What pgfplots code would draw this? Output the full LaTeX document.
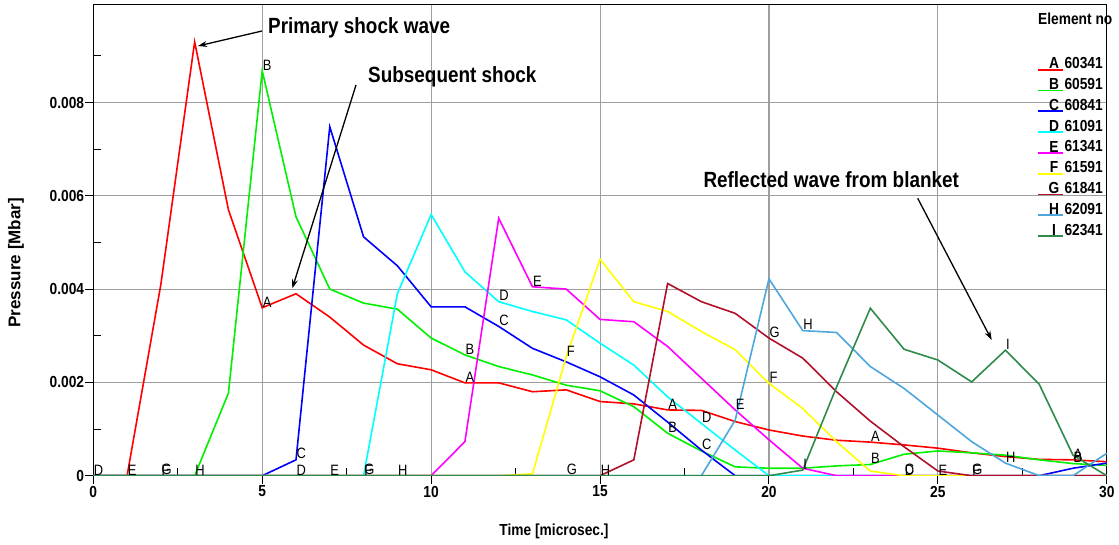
\documentclass[border=0pt]{standalone}
\usepackage{fontspec}
\setmainfont{Liberation Sans}
\newfontfamily\nfont[FakeStretch=0.86]{Liberation Sans}
\usepackage{pgfplots}
\pgfplotsset{compat=1.18}
\usetikzlibrary{arrows.meta}
\definecolor{cA}{HTML}{FF0000}
\definecolor{cB}{HTML}{00F000}
\definecolor{cC}{HTML}{0000FF}
\definecolor{cD}{HTML}{00FFFF}
\definecolor{cE}{HTML}{FF00FF}
\definecolor{cF}{HTML}{FFFF00}
\definecolor{cG}{HTML}{B0102A}
\definecolor{cH}{HTML}{4DA6DC}
\definecolor{cI}{HTML}{2E8B4A}
\tikzset{
  lbl/.style={anchor=south west, inner sep=0.5pt, font=\nfont\fontsize{15}{15}\selectfont},
  ann/.style={anchor=west, inner sep=0pt, font=\nfont\bfseries\fontsize{22}{22}\selectfont},
  arr/.style={line width=1.3pt, -{Stealth[length=9pt,width=6pt]}},
  leg/.style={inner sep=0pt, font=\nfont\bfseries\fontsize{16}{16}\selectfont},
}
\begin{document}
\begin{tikzpicture}
\path[use as bounding box] (-93.3pt,-68.3pt) rectangle (1025.7pt,475.7pt);
\begin{axis}[
  scale only axis, width=1013.5pt, height=470.7pt,
  xmin=0, xmax=30, ymin=0, ymax=0.01009,
  axis line style={black, line width=1pt},
  xtick={0,5,...,30}, ytick={0,0.002,0.004,0.006,0.008},
  minor xtick={2.5,7.5,...,27.5}, minor ytick={0.001,0.003,0.005,0.007,0.009},
  tick pos=left,
  grid=major, major grid style={gray!75, line width=1.1pt},
  tick align=outside, major tick length=8pt, minor tick length=8pt,
  tick style={black, line width=1pt},
  minor x tick style={yshift=8pt},
  minor y tick style={xshift=8pt},
  scaled y ticks=false,
  /pgf/number format/assume math mode=true,
  ticklabel style={font=\nfont\bfseries\fontsize{16}{16}\selectfont},
  yticklabel style={/pgf/number format/fixed, /pgf/number format/precision=3, inner sep=1pt},
  xticklabel style={inner sep=2pt},
]
\addplot[cA, line width=1.6pt] coordinates {(0,0)(1,0)(2,0.0041)(3,0.0093)(4,0.0057)(5,0.0036)(6,0.0039)(7,0.0034)(8,0.0028)(9,0.0024)(10,0.00227)(11,0.00199)(12,0.00199)(13,0.0018)(14,0.00184)(15,0.00159)(16,0.00154)(17,0.00141)(18,0.0014)(19,0.00116)(20,0.00098)(21,0.00085)(22,0.00076)(23,0.00072)(24,0.00066)(25,0.00059)(26,0.00049)(27,0.00041)(28,0.00035)(29,0.00034)(30,0.0003)};
\addplot[cB, line width=1.6pt] coordinates {(0,0)(1,0)(2,0)(3,0)(4,0.00177)(5,0.00868)(6,0.00555)(7,0.004)(8,0.0037)(9,0.00357)(10,0.00295)(11,0.00259)(12,0.00234)(13,0.00216)(14,0.00194)(15,0.00182)(16,0.00148)(17,0.00091)(18,0.00053)(19,0.00019)(20,0.00016)(21,0.00016)(22,0.00021)(23,0.00024)(24,0.00046)(25,0.00053)(26,0.00049)(27,0.00044)(28,0.00034)(29,0.00026)(30,0.00022)};
\addplot[cC, line width=1.6pt] coordinates {(0,0)(1,0)(2,0)(3,0)(4,0)(5,0)(6,0.00034)(7,0.00748)(8,0.00512)(9,0.0045)(10,0.00362)(11,0.00362)(12,0.0032)(13,0.00273)(14,0.00244)(15,0.00212)(16,0.00173)(17,0.00115)(18,0.00055)(19,0)(20,0)(21,0)(22,0)(23,0)(24,0)(25,0)(26,0)(27,0)(28,0)(29,0.00016)(30,0.00027)};
\addplot[cD, line width=1.6pt] coordinates {(0,0)(1,0)(2,0)(3,0)(4,0)(5,0)(6,0)(7,0)(8,0)(9,0.0039)(10,0.0056)(11,0.00437)(12,0.00373)(13,0.00352)(14,0.00334)(15,0.00284)(16,0.00237)(17,0.00169)(18,0.00112)(19,0.00055)(20,0)(21,0)(22,0)(23,0)(24,0)(25,0)(26,0)(27,0)(28,0)(29,0)(30,0)};
\addplot[cE, line width=1.6pt] coordinates {(0,0)(1,0)(2,0)(3,0)(4,0)(5,0)(6,0)(7,0)(8,0)(9,0)(10,0)(11,0.00073)(12,0.00552)(13,0.00405)(14,0.004)(15,0.00335)(16,0.0033)(17,0.00277)(18,0.00209)(19,0.00141)(20,0.00077)(21,0.00016)(22,0)(23,0)(24,0)(25,0)(26,0)(27,0)(28,0)(29,0)(30,0)};
\addplot[cF, line width=1.6pt] coordinates {(0,0)(1,0)(2,0)(3,0)(4,0)(5,0)(6,0)(7,0)(8,0)(9,0)(10,0)(11,0)(12,0)(13,0.00004)(14,0.00255)(15,0.00464)(16,0.00373)(17,0.00352)(18,0.00309)(19,0.0027)(20,0.00198)(21,0.00144)(22,0.00073)(23,0.0001)(24,0)(25,0)(26,0)(27,0)(28,0)(29,0)(30,0)};
\addplot[cG, line width=1.6pt] coordinates {(0,0)(1,0)(2,0)(3,0)(4,0)(5,0)(6,0)(7,0)(8,0)(9,0)(10,0)(11,0)(12,0)(13,0)(14,0)(15,0)(16,0.00034)(17,0.00412)(18,0.00373)(19,0.00348)(20,0.00295)(21,0.00252)(22,0.0018)(23,0.00117)(24,0.00062)(25,0.0001)(26,0)(27,0)(28,0)(29,0)(30,0)};
\addplot[cH, line width=1.6pt] coordinates {(0,0)(1,0)(2,0)(3,0)(4,0)(5,0)(6,0)(7,0)(8,0)(9,0)(10,0)(11,0)(12,0)(13,0)(14,0)(15,0)(16,0)(17,0)(18,0)(19,0.00119)(20,0.00422)(21,0.00311)(22,0.00307)(23,0.00234)(24,0.00187)(25,0.0013)(26,0.00073)(27,0.00027)(28,0)(29,0)(30,0.00048)};
\addplot[cI, line width=1.6pt] coordinates {(0,0)(1,0)(2,0)(3,0)(4,0)(5,0)(6,0)(7,0)(8,0)(9,0)(10,0)(11,0)(12,0)(13,0)(14,0)(15,0)(16,0)(17,0)(18,0)(19,0)(20,0)(21,0.00012)(22,0.0019)(23,0.00359)(24,0.00271)(25,0.00248)(26,0.00201)(27,0.00269)(28,0.00196)(29,0.00044)(30,0)};
% curve letters
\node[lbl] at (axis cs:5,0.0036) {A};
\node[lbl] at (axis cs:11,0.00199) {A};
\node[lbl] at (axis cs:17,0.00141) {A};
\node[lbl] at (axis cs:23,0.00072) {A};
\node[lbl] at (axis cs:29,0.00034) {A};
\node[lbl] at (axis cs:5,0.00868) {B};
\node[lbl] at (axis cs:11,0.00259) {B};
\node[lbl] at (axis cs:17,0.00091) {B};
\node[lbl] at (axis cs:23,0.00024) {B};
\node[lbl] at (axis cs:29,0.00026) {B};
\node[lbl] at (axis cs:6,0.00034) {C};
\node[lbl] at (axis cs:12,0.0032) {C};
\node[lbl] at (axis cs:18,0.00055) {C};
\node[lbl] at (axis cs:24,0) {C};
\node[lbl] at (axis cs:30,0.00027) {C};
\node[lbl] at (axis cs:0,0) {D};
\node[lbl] at (axis cs:6,0) {D};
\node[lbl] at (axis cs:12,0.00373) {D};
\node[lbl] at (axis cs:18,0.00112) {D};
\node[lbl] at (axis cs:24,0) {D};
\node[lbl] at (axis cs:30,0) {D};
\node[lbl] at (axis cs:1,0) {E};
\node[lbl] at (axis cs:7,0) {E};
\node[lbl] at (axis cs:13,0.00405) {E};
\node[lbl] at (axis cs:19,0.00141) {E};
\node[lbl] at (axis cs:25,0) {E};
\node[lbl] at (axis cs:2,0) {F};
\node[lbl] at (axis cs:8,0) {F};
\node[lbl] at (axis cs:14,0.00255) {F};
\node[lbl] at (axis cs:20,0.00198) {F};
\node[lbl] at (axis cs:26,0) {F};
\node[lbl] at (axis cs:2,0) {G};
\node[lbl] at (axis cs:8,0) {G};
\node[lbl] at (axis cs:14,0) {G};
\node[lbl] at (axis cs:20,0.00295) {G};
\node[lbl] at (axis cs:26,0) {G};
\node[lbl] at (axis cs:3,0) {H};
\node[lbl] at (axis cs:9,0) {H};
\node[lbl] at (axis cs:15,0) {H};
\node[lbl] at (axis cs:21,0.00311) {H};
\node[lbl] at (axis cs:27,0.00027) {H};
\node[lbl] at (axis cs:21,0.00012) {I};
\node[lbl] at (axis cs:27,0.00269) {I};
\end{axis}
% axis labels
\node[font=\nfont\bfseries\fontsize{16}{16}\selectfont] at (460.7pt,-56pt) {Time [microsec.]};
\node[rotate=90, font=\bfseries\fontsize{17}{17}\selectfont] at (-77.3pt,213pt) {Pressure [Mbar]};
% annotations
\node[ann] at (174.7pt,447.7pt) {Primary shock wave};
\draw[arr] (168.7pt,444.7pt) -- (104.7pt,429.7pt);
\node[ann] at (274.7pt,398.7pt) {Subsequent shock};
\draw[arr] (262.7pt,390.7pt) -- (199pt,187.4pt);
\node[ann] at (610pt,295.7pt) {Reflected wave from blanket};
\draw[arr] (824.4pt,277.4pt) -- (898.4pt,135.7pt);
% legend
\node[leg, anchor=west] at (944.7pt,456.7pt) {Element no};
\foreach \c/\l/\n [count=\i from 0] in {cA/A/60341,cB/B/60591,cC/C/60841,cD/D/61091,cE/E/61341,cF/F/61591,cG/G/61841,cH/H/62091,cI/I/62341}{
  \pgfmathsetmacro{\yy}{475.7-63.3-20.8*\i}
  \draw[\c, line width=1.8pt] (944.9pt,\yy pt-6.5pt) -- (969.9pt,\yy pt-6.5pt);
  \node[leg] at (960.7pt,\yy pt) {\l};
  \node[leg, anchor=west] at (971pt,\yy pt) {\n};
}
\end{tikzpicture}
\end{document}
